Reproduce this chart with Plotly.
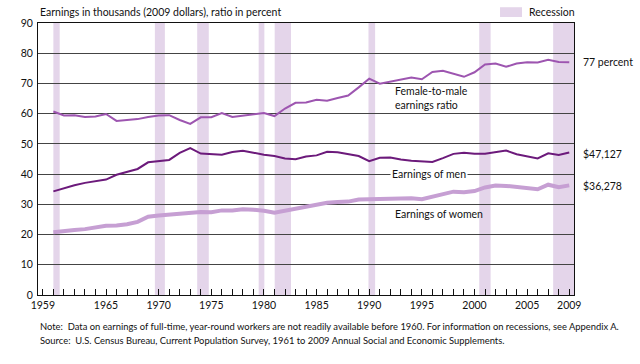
import plotly.graph_objects as go

years = list(range(1960, 2010))

ratio_pct = [60.7, 59.4, 59.5, 58.9, 59.1, 59.9, 57.6, 57.8, 58.2, 58.9,
             59.4, 59.5, 57.9, 56.6, 58.8, 58.8, 60.2, 58.9, 59.4, 59.7,
             60.2, 59.2, 61.7, 63.6, 63.7, 64.6, 64.3, 65.2, 66.0, 68.7,
             71.6, 69.9, 70.6, 71.5, 72.0, 71.4, 73.8, 74.2, 73.2, 72.2,
             73.7, 76.3, 76.6, 75.5, 76.6, 77.0, 76.9, 77.8, 77.1, 77.0]

men_k = [34.3, 35.4, 36.3, 37.1, 37.7, 38.2, 39.8, 40.7, 41.7, 43.9,
         44.4, 44.7, 47.0, 48.6, 46.8, 46.5, 46.4, 47.3, 47.7, 47.1,
         46.4, 46.0, 45.2, 44.9, 45.8, 46.2, 47.4, 47.2, 46.7, 46.0,
         44.3, 45.4, 45.5, 44.8, 44.4, 44.3, 44.0, 45.3, 46.7, 47.1,
         46.7, 46.7, 47.3, 47.8, 46.6, 45.8, 45.2, 46.9, 46.3, 47.127]

women_k = [20.8, 21.0, 21.5, 21.8, 22.3, 22.9, 23.0, 23.4, 24.2, 25.9,
           26.3, 26.6, 27.2, 27.5, 27.5, 27.4, 28.0, 28.0, 28.4, 28.2,
           27.9, 27.2, 27.9, 28.5, 29.2, 29.8, 30.5, 30.8, 30.9, 31.6,
           31.7, 31.8, 32.1, 32.0, 32.0, 31.7, 32.5, 33.5, 34.2, 34.0,
           34.4, 35.6, 36.2, 36.1, 35.7, 35.3, 35.0, 36.5, 35.7, 36.278]

recession_start = [1960.0, 1969.64, 1973.66, 1979.5, 1981.02, 1989.93, 2000.45, 2007.47]
recession_end = [1960.6, 1970.59, 1974.76, 1980.04, 1982.57, 1990.56, 2001.53, 2009.5]

tick_years = list(range(1959, 2010))
labeled_years = [1959, 1965, 1970, 1975, 1980, 1985, 1990, 1995, 2000, 2005, 2009]
tick_text = [str(y) if y in labeled_years else "" for y in tick_years]

FONT = "Lato"
REC_COLOR = "#e4d5ea"
TXT = "#111"

fig = go.Figure()

fig.add_trace(go.Scatter(x=years, y=women_k, mode="lines",
                         line=dict(color="#c69fd3", width=4), showlegend=False))
fig.add_trace(go.Scatter(x=years, y=men_k, mode="lines",
                         line=dict(color="#6c1a7b", width=2), showlegend=False))
fig.add_trace(go.Scatter(x=years, y=ratio_pct, mode="lines",
                         line=dict(color="#9d55b0", width=2), showlegend=False))

shapes = []
for s, e in zip(recession_start, recession_end):
    shapes.append(dict(type="rect", xref="x", yref="paper", x0=s, x1=e, y0=0, y1=1,
                       fillcolor=REC_COLOR, line=dict(width=0), layer="below"))
# legend swatch
shapes.append(dict(type="rect", xref="paper", yref="paper", x0=0.862, x1=0.903,
                   y0=1.022, y1=1.058, fillcolor=REC_COLOR, line=dict(width=0)))

annotations = [
    dict(text="Earnings in thousands (2009 dollars), ratio in percent", xref="paper", yref="paper",
         x=0, y=1.0, xanchor="left", yanchor="bottom", yshift=3, showarrow=False,
         font=dict(size=10.5, color=TXT)),
    dict(text="Recession", xref="paper", yref="paper", x=0.913, y=1.04,
         xanchor="left", yanchor="middle", showarrow=False, font=dict(size=10.5, color=TXT)),
    dict(text="77 percent", xref="paper", yref="y", x=1, y=77.1, xanchor="left", xshift=7,
         showarrow=False, font=dict(size=10.5, color=TXT)),
    dict(text="$47,127", xref="paper", yref="y", x=1, y=46.5, xanchor="left", xshift=7,
         showarrow=False, font=dict(size=10.5, color=TXT)),
    dict(text="$36,278", xref="paper", yref="y", x=1, y=36.1, xanchor="left", xshift=7,
         showarrow=False, font=dict(size=10.5, color=TXT)),
    dict(text="Female-to-male<br>earnings ratio", x=1992.25, y=65.3, xanchor="left",
         yanchor="middle", align="left", showarrow=False, font=dict(size=10.5, color=TXT)),
    dict(text="Earnings of men", x=1995.7, y=40.2, xanchor="center", yanchor="middle",
         showarrow=False, bgcolor="white", borderpad=1, font=dict(size=10.5, color=TXT)),
    dict(text="Earnings of women", x=1992.25, y=26.8, xanchor="left", yanchor="middle",
         showarrow=False, font=dict(size=10.5, color=TXT)),
    dict(text="Note:  Data on earnings of full-time, year-round workers are not readily available before 1960. "
              "For information on recessions, see Appendix A.",
         xref="paper", yref="paper", x=0, y=-0.114, xanchor="left", yanchor="middle",
         showarrow=False, font=dict(size=9.4, color=TXT)),
    dict(text="Source:  U.S. Census Bureau, Current Population Survey, 1961 to 2009 Annual Social and Economic Supplements.",
         xref="paper", yref="paper", x=0, y=-0.169, xanchor="left", yanchor="middle",
         showarrow=False, font=dict(size=9.4, color=TXT)),
]

fig.update_layout(
    width=640, height=364,
    margin=dict(l=38, r=66, t=23, b=69, autoexpand=False),
    paper_bgcolor="white", plot_bgcolor="white",
    font=dict(family=FONT, size=10.5, color=TXT),
    shapes=shapes, annotations=annotations, showlegend=False,
    xaxis=dict(range=[1958.54, 2009.45], tickmode="array", tickvals=tick_years, ticktext=tick_text,
               ticks="inside", ticklen=6, tickcolor=TXT, tickwidth=1,
               showline=True, linecolor=TXT, linewidth=1, mirror=True,
               showgrid=False, zeroline=False, tickangle=0, automargin=False,
               tickfont=dict(size=10.5, color=TXT)),
    yaxis=dict(range=[0, 90], tickmode="array", tickvals=list(range(0, 91, 10)),
               showline=True, linecolor=TXT, linewidth=1, mirror=True, automargin=False,
               showgrid=True, gridcolor="#444", gridwidth=1, zeroline=False,
               ticks="", ticklabelstandoff=2, tickfont=dict(size=10.5, color=TXT)),
)

fig.write_html("out.html", config={"displayModeBar": False},
               post_script="document.body.style.margin='0';document.body.style.overflow='hidden';")
